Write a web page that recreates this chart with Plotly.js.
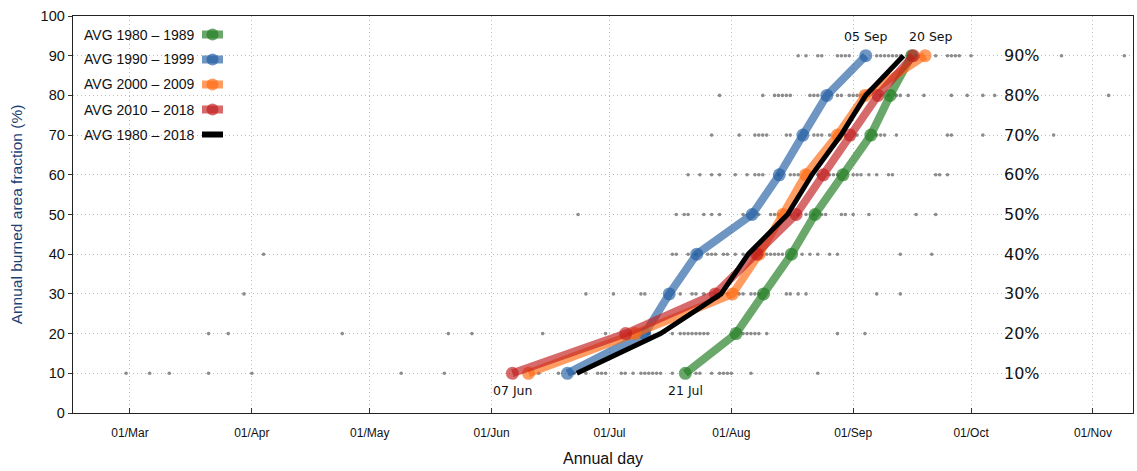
<!DOCTYPE html>
<html>
<head>
<meta charset="utf-8">
<script src="https://cdn.plot.ly/plotly-3.0.1.min.js"></script>
<style>html,body{margin:0;padding:0;background:#fff;}#chart{width:1137px;height:471px;}</style>
</head>
<body>
<div id="chart"></div>
<script>
// ---- data (x = day of year, y = burned area fraction %) ----
const levels = [10, 20, 30, 40, 50, 60, 70, 80, 90];
const pctLabels = ['10%', '20%', '30%', '40%', '50%', '60%', '70%', '80%', '90%'];

const avg1980_1989 = [201.3, 214.2, 221.2, 228.3, 234.3, 241.4, 248.5, 253.4, 258.9];
const avg1990_1999 = [171.3, 191.0, 197.2, 204.2, 218.3, 225.2, 231.2, 237.3, 247.2];
const avg2000_2009 = [161.4, 188.5, 213.3, 220.1, 226.1, 231.9, 240.0, 247.0, 262.3];
const avg2010_2018 = [157.3, 186.1, 208.9, 219.5, 229.5, 236.4, 243.2, 250.3, 259.3];
const avg1980_2018 = [173.7, 195.0, 210.4, 217.3, 227.3, 233.5, 240.9, 247.2, 256.8];

const seriesNames = ['AVG 1980 \u2013 1989', 'AVG 1990 \u2013 1999', 'AVG 2000 \u2013 2009', 'AVG 2010 \u2013 2018', 'AVG 1980 \u2013 2018'];

// individual years (grey dots), one list per level
const years10 = [59, 65, 70, 80, 91, 129, 140, 164, 169, 173, 176, 179, 180, 181, 185, 186, 188, 190, 191, 192, 193, 194, 195, 198, 204, 205, 208, 210, 211, 212, 213, 218, 235];
const years20 = [80, 85, 114, 141, 147, 165, 181, 187, 192, 195, 198, 200, 201, 202, 203, 204, 205, 206, 207, 216, 217, 218, 219, 220, 222, 240, 247];
const years30 = [89, 176, 183, 190, 191, 200, 203, 204, 206, 209, 212, 215, 216, 218, 219, 220, 227, 228, 230, 232, 250, 256];
const years40 = [94, 198, 199, 202, 204, 207, 208, 209, 211, 212, 214, 216, 220, 221, 222, 223, 224, 225, 226, 231, 233, 235, 238, 240, 256, 264];
const years50 = [174, 199, 201, 202, 206, 208, 210, 216, 220, 223, 224, 225, 228, 230, 232, 234, 236, 237, 241, 242, 244, 248, 260, 265];
const years60 = [202, 205, 208, 210, 214, 217, 219, 220, 221, 225, 228, 229, 230, 233, 235, 238, 239, 240, 244, 245, 246, 248, 250, 253, 254, 265, 266, 268];
const years70 = [208, 215, 219, 220, 221, 222, 227, 228, 234, 235, 236, 238, 242, 245, 250, 251, 252, 255, 268, 269, 277, 295];
const years80 = [210, 221, 224, 225, 226, 227, 228, 233, 234, 235, 240, 241, 243, 244, 245, 246, 248, 251, 253, 255, 256, 258, 262, 269, 273, 277, 280, 309];
const years90 = [230, 232, 235, 236, 240, 241, 242, 243, 250, 251, 252, 253, 254, 255, 256, 258, 260, 265, 268, 269, 270, 271, 274, 297, 313];

const tickDays = [60, 91, 121, 152, 182, 213, 244, 274, 305];
const tickLabels = ['01/Mar', '01/Apr', '01/May', '01/Jun', '01/Jul', '01/Aug', '01/Sep', '01/Oct', '01/Nov'];

const dateLabels = ['07 Jun', '21 Jul', '05 Sep', '20 Sep'];

// ---- styles ----
const colors = ['rgba(35,125,35,0.68)', 'rgba(30,90,160,0.64)', 'rgba(255,105,15,0.66)', 'rgba(195,30,30,0.66)', '#000000'];
const W = 1137, H = 471;
const M = {l: 73, r: 4, t: 16, b: 58};
const plotW = W - M.l - M.r, plotH = H - M.t - M.b;
const px = v => (v - M.l) / plotW;
const py = v => (H - M.b - v) / plotH;

const yearLists = [years10, years20, years30, years40, years50, years60, years70, years80, years90];
const dotX = [], dotY = [];
yearLists.forEach((lst, i) => lst.forEach(d => { dotX.push(d); dotY.push(levels[i]); }));

const traces = [{
  x: dotX, y: dotY, type: 'scatter', mode: 'markers',
  marker: {size: 3.6, color: '#8c8c8c'}, hoverinfo: 'skip', showlegend: false
}];
const avgs = [avg1980_1989, avg1990_1999, avg2000_2009, avg2010_2018];
avgs.forEach((s, i) => traces.push({
  x: s, y: levels, type: 'scatter', mode: 'lines+markers', name: seriesNames[i],
  line: {color: colors[i], width: 8}, marker: {color: colors[i], size: 13}, showlegend: false
}));
traces.push({
  x: avg1980_2018, y: levels, type: 'scatter', mode: 'lines', name: seriesNames[4],
  line: {color: colors[4], width: 5}, showlegend: false
});

const annotations = [];
const shapes = [];
// right-side percent labels
levels.forEach((lv, i) => annotations.push({
  xref: 'paper', yref: 'y', x: px(1022), y: lv, text: pctLabels[i], showarrow: false,
  xanchor: 'center', yanchor: 'middle', font: {family: 'DejaVu Sans', size: 16, color: '#111'}
}));
// date labels at start / end points
const labelSpecs = [
  {s: avg2010_2018, i: 0, dy: -17, dx: 0},
  {s: avg1980_1989, i: 0, dy: -17, dx: 0},
  {s: avg1990_1999, i: 8, dy: 19, dx: 0},
  {s: avg2000_2009, i: 8, dy: 19, dx: 6}
];
labelSpecs.forEach((sp, k) => annotations.push({
  xref: 'x', yref: 'y', x: sp.s[sp.i], y: levels[sp.i], text: dateLabels[k], showarrow: false,
  xanchor: 'center', yanchor: 'middle', yshift: sp.dy, xshift: sp.dx,
  font: {family: 'DejaVu Sans', size: 12.5, color: '#111'}
}));
// legend (text left, symbol right)
const legRows = [34.5, 59.5, 84.5, 109.5, 134.5];
seriesNames.forEach((nm, i) => {
  annotations.push({
    xref: 'paper', yref: 'paper', x: px(82), y: py(legRows[i]), text: nm, showarrow: false,
    xanchor: 'left', yanchor: 'middle', font: {family: 'Liberation Sans, Arial', size: 14, color: '#111'}
  });
  shapes.push({
    type: 'line', xref: 'paper', yref: 'paper', x0: px(202), x1: px(223), y0: py(legRows[i]), y1: py(legRows[i]),
    line: {color: colors[i], width: i < 4 ? 8 : 6}
  });
  if (i < 4) shapes.push({
    type: 'circle', xref: 'paper', yref: 'paper', xsizemode: 'pixel', ysizemode: 'pixel',
    xanchor: px(212.5), yanchor: py(legRows[i]), x0: -6, x1: 6, y0: -6, y1: 6,
    fillcolor: colors[i], line: {width: 0}
  });
});

const narrow = 'Liberation Sans Narrow, Arial Narrow, Liberation Sans, Arial';
const layout = {
  width: W, height: H, margin: M, paper_bgcolor: '#fff', plot_bgcolor: '#fff',
  showlegend: false,
  xaxis: {
    range: [45.5, 315.2], tickvals: tickDays, ticktext: tickLabels,
    ticks: 'inside', ticklen: 5, tickcolor: '#333', showline: true, linecolor: '#222', linewidth: 1.3, mirror: true,
    showgrid: true, gridcolor: '#bdbdbd', griddash: '1px,3px', gridwidth: 1, zeroline: false,
    tickfont: {family: narrow, size: 12, color: '#111'}, ticklabelstandoff: 8,
    title: {text: 'Annual day', font: {family: narrow, size: 16, color: '#111'}, standoff: 14}
  },
  yaxis: {
    range: [0, 100], dtick: 10, ticks: 'outside', ticklen: 4, tickcolor: '#333',
    showline: true, linecolor: '#222', linewidth: 1.3, mirror: true,
    showgrid: true, gridcolor: '#bdbdbd', griddash: '1px,3px', gridwidth: 1, zeroline: false,
    tickfont: {family: 'Liberation Sans, Arial', size: 14.5, color: '#111'},
    title: {text: 'Annual burned area fraction (%)', font: {family: narrow, size: 15.5, color: '#1d3f73'}, standoff: 14}
  },
  annotations: annotations, shapes: shapes
};
Plotly.newPlot('chart', traces, layout, {displayModeBar: false, staticPlot: true});
</script>
</body>
</html>
